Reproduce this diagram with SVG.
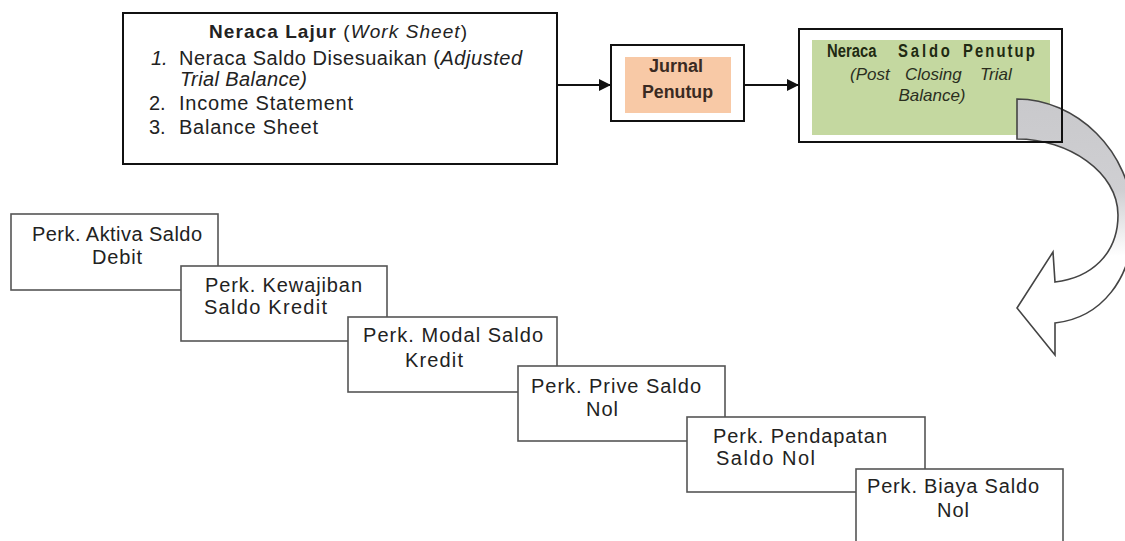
<svg xmlns="http://www.w3.org/2000/svg" width="1125" height="541" viewBox="0 0 1125 541">
<style>
  .t { font-family: "Liberation Sans", Arial, sans-serif; font-size: 20px; fill: #222; }
  .h { font-size: 19px; }
  .b { font-weight: bold; }
  .i { font-style: italic; }
  .cond { font-family: "Liberation Sans", Arial, sans-serif; font-weight: bold; font-size: 18px; }
  .acct { fill: #fff; stroke: #555; stroke-width: 1.6; }
  .frame { fill: #fff; stroke: #111; stroke-width: 2; }
  .line { stroke: #111; stroke-width: 2; fill: none; }
</style>
<defs>
  <marker id="ah" markerWidth="12" markerHeight="12" refX="12" refY="6" orient="auto" markerUnits="userSpaceOnUse">
    <path d="M0,0 L12,6 L0,12 Z" fill="#111"/>
  </marker>
  <linearGradient id="curveFill" gradientUnits="userSpaceOnUse" x1="0" y1="100" x2="0" y2="300">
    <stop offset="0" stop-color="#c9c9cc"/>
    <stop offset="0.45" stop-color="#cfcfd2"/>
    <stop offset="0.78" stop-color="#ffffff"/>
    <stop offset="1" stop-color="#ffffff"/>
  </linearGradient>
</defs>
<rect x="0" y="0" width="1125" height="541" fill="#fff"/>

<g id="neraca-lajur">
  <rect class="frame" x="123" y="13" width="434" height="151"/>
  <text class="t h" x="209" y="38" textLength="258" lengthAdjust="spacing"><tspan class="b">Neraca Lajur </tspan>(<tspan class="i">Work Sheet</tspan>)</text>
  <text class="t i" x="151" y="65">1.</text>
  <text class="t" x="179" y="65" textLength="343" lengthAdjust="spacing">Neraca Saldo Disesuaikan (<tspan class="i">Adjusted</tspan></text>
  <text class="t i" x="180" y="86" textLength="127" lengthAdjust="spacing">Trial Balance)</text>
  <text class="t" x="149" y="110">2.</text>
  <text class="t" x="179" y="110" textLength="174" lengthAdjust="spacing">Income Statement</text>
  <text class="t" x="149" y="134">3.</text>
  <text class="t" x="179" y="134" textLength="139" lengthAdjust="spacing">Balance Sheet</text>
</g>

<g id="jurnal-penutup">
  <rect class="frame" x="611" y="45" width="133" height="76"/>
  <rect x="625" y="57" width="106" height="56" fill="#f8c9a6"/>
  <text class="cond" fill="#3a2a22" x="649" y="72" textLength="54" lengthAdjust="spacingAndGlyphs">Jurnal</text>
  <text class="cond" fill="#3a2a22" x="642" y="98" textLength="71" lengthAdjust="spacingAndGlyphs">Penutup</text>
</g>

<g id="neraca-saldo-penutup">
  <rect x="799" y="29" width="263" height="113" fill="#fff"/>
  <rect x="812" y="40" width="238" height="95" fill="#c4d8a0"/>
  <text class="cond" fill="#1f2a12" style="font-size:19px" y="57" transform="scale(0.78,1)"><tspan x="1060.3">Neraca</tspan> <tspan x="1151.3" letter-spacing="3.7">Saldo</tspan> <tspan x="1234.6" letter-spacing="2.7">Penutup</tspan></text>
  <text class="t i" style="fill:#2a2e1e;font-size:17px" y="80"><tspan x="850">(Post</tspan> <tspan x="905">Closing</tspan> <tspan x="980">Trial</tspan></text>
  <text class="t i" style="fill:#2a2e1e;font-size:17px" x="932" y="101" text-anchor="middle">Balance)</text>
</g>

<g id="connectors">
  <line class="line" x1="557" y1="85" x2="611" y2="85" marker-end="url(#ah)"/>
  <line class="line" x1="744" y1="85" x2="799" y2="85" marker-end="url(#ah)"/>
  <path d="M1017,99 C1075,99 1132,150 1133,220 C1134,280 1100,318 1055,323 L1055,355 L1017,308 L1053,252 L1055,282 C1090,278 1118,255 1118,215 C1118,172 1068,139 1017,139 Z" fill="url(#curveFill)" stroke="#444" stroke-width="1.6" stroke-linejoin="miter"/>
</g>

<g id="neraca-saldo-penutup-frame">
  <rect x="799" y="29" width="263" height="113" fill="none" stroke="#111" stroke-width="2"/>
</g>

<g id="aktiva">
  <rect class="acct" x="11" y="214" width="207" height="76"/>
  <text class="t" x="32" y="241" textLength="170" lengthAdjust="spacing">Perk. Aktiva Saldo</text>
  <text class="t" x="92" y="264" textLength="50" lengthAdjust="spacing">Debit</text>
</g>
<g id="kewajiban">
  <rect class="acct" x="181" y="266" width="206" height="75"/>
  <text class="t" x="205" y="292" textLength="157" lengthAdjust="spacing">Perk. Kewajiban</text>
  <text class="t" x="204" y="314" textLength="123" lengthAdjust="spacing">Saldo Kredit</text>
</g>
<g id="modal">
  <rect class="acct" x="348" y="317" width="209" height="75"/>
  <text class="t" x="363" y="342" textLength="180" lengthAdjust="spacing">Perk. Modal Saldo</text>
  <text class="t" x="405" y="367" textLength="58" lengthAdjust="spacing">Kredit</text>
</g>
<g id="prive">
  <rect class="acct" x="518" y="366" width="207" height="75"/>
  <text class="t" x="531" y="393" textLength="170" lengthAdjust="spacing">Perk. Prive Saldo</text>
  <text class="t" x="586" y="416" textLength="32" lengthAdjust="spacing">Nol</text>
</g>
<g id="pendapatan">
  <rect class="acct" x="687" y="417" width="238" height="75"/>
  <text class="t" x="713" y="443" textLength="174" lengthAdjust="spacing">Perk. Pendapatan</text>
  <text class="t" x="716" y="465" textLength="99" lengthAdjust="spacing">Saldo Nol</text>
</g>
<g id="biaya">
  <rect class="acct" x="856" y="469" width="207" height="82"/>
  <text class="t" x="867" y="493" textLength="172" lengthAdjust="spacing">Perk. Biaya Saldo</text>
  <text class="t" x="937" y="517" textLength="32" lengthAdjust="spacing">Nol</text>
</g>
</svg>
